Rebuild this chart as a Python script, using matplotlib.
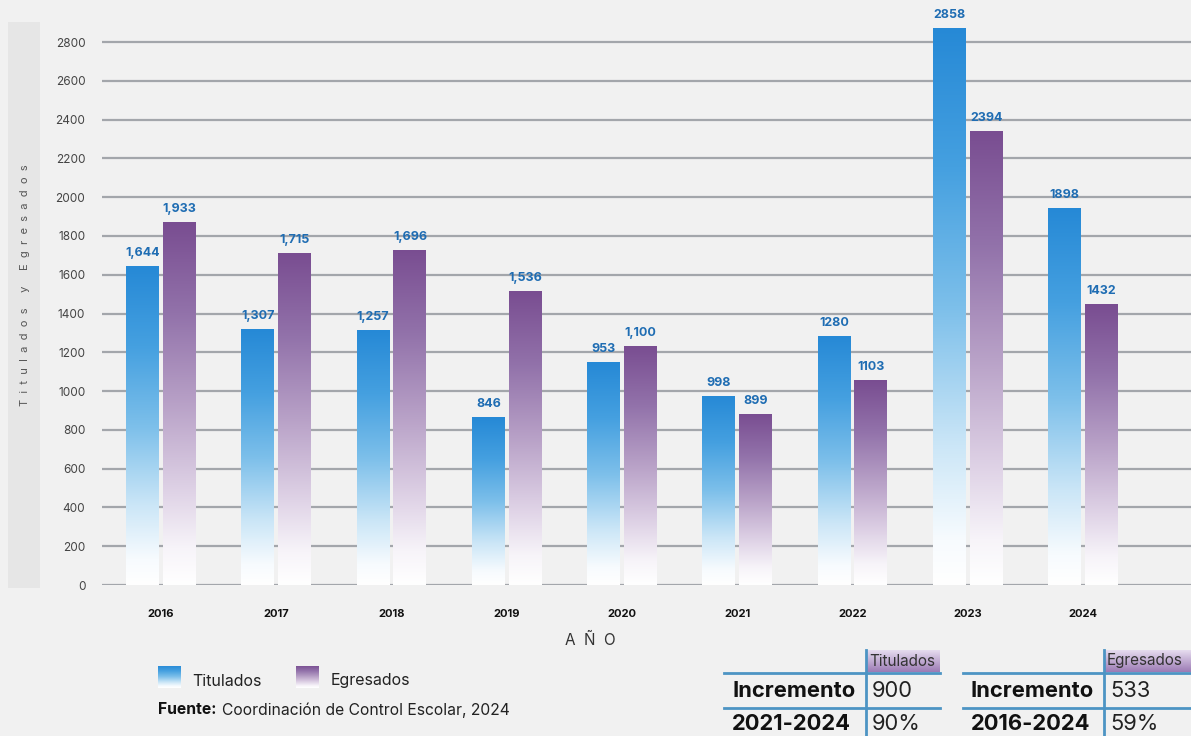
import numpy as np
import matplotlib
matplotlib.use("Agg")
import matplotlib.pyplot as plt
from matplotlib.colors import LinearSegmentedColormap
from matplotlib.lines import Line2D
from matplotlib.patches import Rectangle

# ---------------- data ----------------
years = ["2016", "2017", "2018", "2019", "2020", "2021", "2022", "2023", "2024"]
titulados = [1645, 1320, 1315, 866, 1150, 975, 1284, 2873, 1944]      # bar heights
egresados = [1872, 1712, 1728, 1516, 1233, 882, 1057, 2341, 1449]
titulados_labels = ["1,644", "1,307", "1,257", "846", "953", "998", "1280", "2858", "1898"]
egresados_labels = ["1,933", "1,715", "1,696", "1,536", "1,100", "899", "1103", "2394", "1432"]
yticks = [0, 200, 400, 600, 800, 1000, 1200, 1400, 1600, 1800, 2000, 2200, 2400, 2600, 2800]

table_t_header = "Titulados"
table_t_rows = [("Incremento", "900"), ("2021-2024", "90%")]
table_e_header = "Egresados"
table_e_rows = [("Incremento", "533"), ("2016-2024", "59%")]

# ---------------- figure ----------------
W, H = 1191, 736
plt.rcParams['font.family'] = ['Inter', 'DejaVu Sans']
fig = plt.figure(figsize=(W / 100, H / 100), dpi=100)
fig.patch.set_facecolor('#f1f1f1')

def fx(x):
    return x / W

def fy(y):
    return 1 - y / H

# left gray panel
fig.add_artist(Rectangle((fx(8), fy(588)), fx(40) - fx(8), fy(22) - fy(588),
                         transform=fig.transFigure, facecolor='#e6e6e6', edgecolor='none', zorder=0))
ylabel = "Titulados y Egresados"
spaced = "     ".join("  ".join(w) for w in ylabel.split(" "))
fig.text(fx(25), fy(285), spaced, rotation=90,
         ha='center', va='center', fontsize=8, color='#555555')

ax_left, ax_right, ax_bottom_px, ax_top_px = 102, 1191, 585, 13
ax = fig.add_axes([fx(ax_left), fy(ax_bottom_px), fx(ax_right) - fx(ax_left), fy(ax_top_px) - fy(ax_bottom_px)])
ax.set_facecolor('none')
ymax = 2950

for t in yticks:
    ax.axhline(t, color='#a3a6ab', lw=1.6, zorder=1)
ax.set_yticks(yticks)
ax.set_yticklabels([str(t) for t in yticks], fontsize=8.5, color='#444444')
x = np.arange(len(years))
ax.set_xticks(x)
ax.set_xticklabels(years, fontsize=8, fontweight='bold', color='#111111')
ax.tick_params(axis='both', length=0)
ax.tick_params(axis='y', pad=12)
ax.tick_params(axis='x', pad=17)
for s in ax.spines.values():
    s.set_visible(False)

cmap_t = LinearSegmentedColormap.from_list('t', [
    (0.0, '#ffffff'), (0.08, '#f7fbfe'), (0.25, '#cbe6f7'), (0.5, '#7cbfea'),
    (0.75, '#45a0e0'), (1.0, '#2689d6')])
cmap_e = LinearSegmentedColormap.from_list('e', [
    (0.0, '#ffffff'), (0.1, '#f7f4f9'), (0.25, '#e0d4e7'), (0.5, '#b8a1c7'),
    (0.75, '#9272aa'), (1.0, '#794d91')])

bw = 0.286
off = 0.16
grad = np.linspace(0, 1, 256).reshape(-1, 1)

def gradient_bars(xs, vals, labels, cmap):
    bars = ax.bar(xs, vals, width=bw, color='none', edgecolor='none', zorder=2)
    for b, lab in zip(bars, labels):
        x0, w, h = b.get_x(), b.get_width(), b.get_height()
        im = ax.imshow(grad, cmap=cmap, origin='lower', aspect='auto',
                       extent=[x0, x0 + w, 0, h], zorder=3, interpolation='bicubic')
        im.set_clip_path(b)
        ax.annotate(lab, (x0 + w / 2, h), xytext=(0, 5), textcoords='offset points',
                    ha='center', va='bottom', fontsize=9, fontweight='bold',
                    color='#1f6db3', annotation_clip=False, zorder=4)
    return bars

gradient_bars(x - off, titulados, titulados_labels, cmap_t)
gradient_bars(x + off, egresados, egresados_labels, cmap_e)
ax.set_xlim(-0.512, 8.937)
ax.set_ylim(0, ymax)

fig.text(fx(590), fy(640), "A  Ñ  O", ha='center', va='center', fontsize=11, color='#333333')

# legend
def grad_box(x0, y0, x1, y1, cmap):
    a = fig.add_axes([fx(x0), fy(y1), fx(x1) - fx(x0), fy(y0) - fy(y1)])
    a.imshow(np.linspace(0.05, 0.9, 100).reshape(-1, 1), cmap=cmap, origin='lower', aspect='auto')
    a.axis('off')
    return a

grad_box(158, 666, 181, 688, cmap_t)
fig.text(fx(192), fy(681), "Titulados", ha='left', va='center', fontsize=11.5, color='#222222')
grad_box(296, 666, 319, 688, cmap_e)
fig.text(fx(331), fy(681), "Egresados", ha='left', va='center', fontsize=11.5, color='#222222')

fig.text(fx(158), fy(710), "Fuente:", ha='left', va='center', fontsize=11.3, fontweight='bold', color='#111111')
fig.text(fx(222), fy(710), "Coordinación de Control Escolar, 2024", ha='left', va='center',
         fontsize=11.3, color='#222222')

# tables
cmap_h = LinearSegmentedColormap.from_list('h', ['#9c7bb5', '#e6dcef'])

def draw_table(xl, xv, xr, header, rows):
    # header cell
    a = fig.add_axes([fx(xv), fy(672), fx(xr) - fx(xv), fy(650) - fy(672)])
    a.imshow(np.linspace(0, 1, 100).reshape(-1, 1), cmap=cmap_h, origin='lower', aspect='auto')
    a.axis('off')
    fig.text(fx(xv + 3), fy(661), header, ha='left', va='center', fontsize=11, color='#333333')
    lc = '#4d94c4'
    fig.add_artist(Line2D([fx(xv), fx(xv)], [fy(650), fy(736)], transform=fig.transFigure, color=lc, lw=2))
    for yy in (673, 708):
        fig.add_artist(Line2D([fx(xl), fx(xr)], [fy(yy), fy(yy)], transform=fig.transFigure, color=lc, lw=2))
    for (lab, val), yy in zip(rows, (691, 724)):
        fig.text(fx(xl + 8), fy(yy), lab, ha='left', va='center', fontsize=15.8, fontweight='bold', color='#111111')
        fig.text(fx(xv + 6), fy(yy), val, ha='left', va='center', fontsize=15.8, color='#222222')

draw_table(724, 866, 940, table_t_header, table_t_rows)
draw_table(963, 1104, 1191, table_e_header, table_e_rows)

fig.savefig("out.png", dpi=100, facecolor=fig.get_facecolor())
